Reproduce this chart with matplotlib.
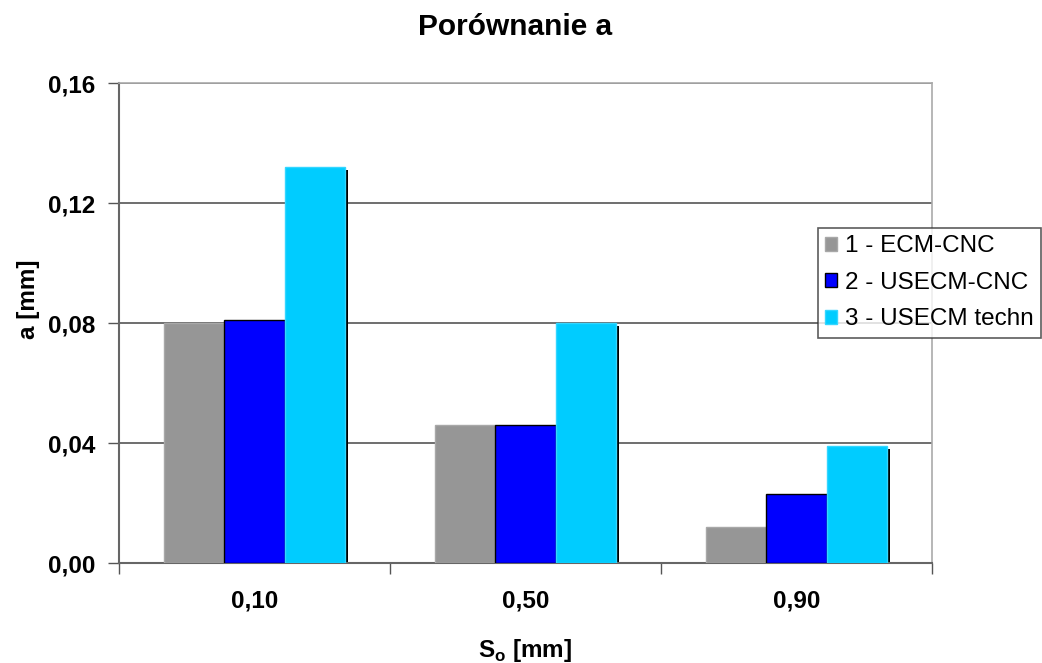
import matplotlib
matplotlib.use('Agg')
import matplotlib.pyplot as plt
import numpy as np

plt.rcParams['font.family'] = ['Liberation Sans', 'DejaVu Sans']

# -- data ----------------------------
categories = ['0,10', '0,50', '0,90']
series_names = ['1 - ECM-CNC', '2 - USECM-CNC', '3 - USECM techn']
ecm_cnc = [0.080, 0.046, 0.012]
usecm_cnc = [0.081, 0.046, 0.023]
usecm_techn = [0.132, 0.080, 0.039]
y_ticks = [0.00, 0.04, 0.08, 0.12, 0.16]

colors = ['#969696', '#0000ff', '#00ccff']
edges = ['#a8a8a8', '#000000', '#33d6ff']

fig = plt.figure(figsize=(10.42, 6.63), dpi=100)
ax = fig.add_axes([0.1142, 0.1508, 0.7802, 0.724])

x = np.arange(len(categories))
width = 0.2225
dx, dy = 0.011, 0.0011  # drop shadow offset

for i, (vals, c, ec, name) in enumerate(zip([ecm_cnc, usecm_cnc, usecm_techn], colors, edges, series_names)):
    pos = x + (i - 1) * width
    ax.bar(pos + dx, np.array(vals) - dy, width, color='black', zorder=2)
    ax.bar(pos, vals, width, color=c, edgecolor=ec, linewidth=1, label=name, zorder=3 + i)

ax.set_xlim(-0.5, 2.5)
ax.set_ylim(0, 0.16)
ax.set_yticks(y_ticks)
ax.set_yticklabels([f'{v:.2f}'.replace('.', ',') for v in y_ticks])
ax.set_xticks(x)
ax.set_xticklabels(categories)
ax.set_xticks([-0.5, 0.5, 1.5, 2.5], minor=True)

ax.tick_params(axis='y', direction='out', length=8, width=1, color='#555555', pad=9, labelsize=17.5)
ax.tick_params(axis='x', which='major', length=0, pad=19, labelsize=17.5)
ax.tick_params(axis='x', which='minor', direction='out', length=8, width=1, color='#555555')
for lab in ax.get_xticklabels() + ax.get_yticklabels():
    lab.set_fontweight('bold')

ax.grid(axis='y', color='#555555', linewidth=1.2, zorder=1)
ax.set_axisbelow(True)
for side in ['left', 'bottom']:
    ax.spines[side].set_color('#666666')
    ax.spines[side].set_linewidth(1.5)
for side in ['top', 'right']:
    ax.spines[side].set_color('#aaaaaa')
    ax.spines[side].set_linewidth(1.2)

ax.set_ylabel('a [mm]', fontsize=17.5, fontweight='bold')
ax.yaxis.set_label_coords(-0.097, 0.55)
ax.set_xlabel(r'S$_\mathregular{o}$ [mm]', fontsize=17.5, fontweight='bold', labelpad=18)

fig.suptitle('Porównanie a', x=0.494, y=0.98, fontsize=21.5, fontweight='bold')

leg = ax.legend(loc='upper left', bbox_to_anchor=(818 / 1042, 1 - 228 / 663),
                bbox_transform=fig.transFigure, fontsize=17.5, frameon=True,
                fancybox=False, edgecolor='#333333', handlelength=0.5, handleheight=0.5,
                handletextpad=0.3, borderpad=0.3, labelspacing=0.6, borderaxespad=0)
leg.get_frame().set_linewidth(1.2)

fig.savefig('out.png', dpi=100)
